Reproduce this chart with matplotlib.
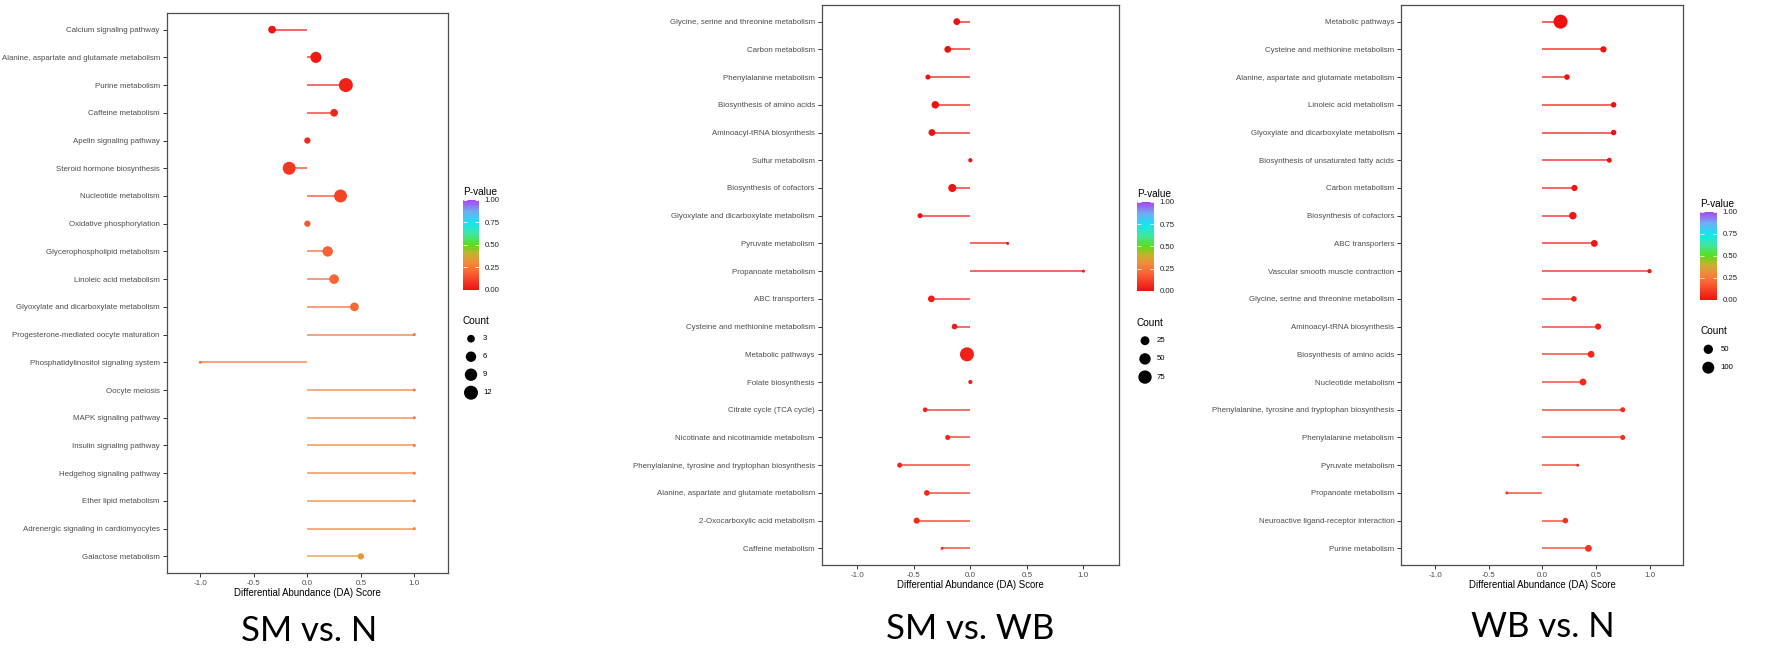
import numpy as np
import matplotlib.pyplot as plt
from matplotlib.colors import LinearSegmentedColormap, Normalize
from matplotlib.cm import ScalarMappable

W, H = 1772, 654

# ---- SM vs. N ----
terms1 = ["Calcium signaling pathway", "Alanine, aspartate and glutamate metabolism",
          "Purine metabolism", "Caffeine metabolism", "Apelin signaling pathway",
          "Steroid hormone biosynthesis", "Nucleotide metabolism", "Oxidative phosphorylation",
          "Glycerophospholipid metabolism", "Linoleic acid metabolism",
          "Glyoxylate and dicarboxylate metabolism", "Progesterone-mediated oocyte maturation",
          "Phosphatidylinositol signaling system", "Oocyte meiosis", "MAPK signaling pathway",
          "Insulin signaling pathway", "Hedgehog signaling pathway", "Ether lipid metabolism",
          "Adrenergic signaling in cardiomyocytes", "Galactose metabolism"]
da1 = [-0.33, 0.08, 0.36, 0.25, 0.0, -0.17, 0.31, 0.0, 0.19, 0.25, 0.44,
       1.0, -1.0, 1.0, 1.0, 1.0, 1.0, 1.0, 1.0, 0.5]
count1 = [3, 7, 12, 3, 2, 10, 10, 2, 6, 5, 4, 1, 1, 1, 1, 1, 1, 1, 1, 2]
p1 = [0.01, 0.02, 0.04, 0.05, 0.06, 0.09, 0.12, 0.17, 0.19, 0.2, 0.21,
      0.24, 0.24, 0.27, 0.27, 0.27, 0.27, 0.28, 0.28, 0.34]
breaks1 = [3, 6, 9, 12]

# ---- SM vs. WB ----
terms2 = ["Glycine, serine and threonine metabolism", "Carbon metabolism",
          "Phenylalanine metabolism", "Biosynthesis of amino acids", "Aminoacyl-tRNA biosynthesis",
          "Sulfur metabolism", "Biosynthesis of cofactors", "Glyoxylate and dicarboxylate metabolism",
          "Pyruvate metabolism", "Propanoate metabolism", "ABC transporters",
          "Cysteine and methionine metabolism", "Metabolic pathways", "Folate biosynthesis",
          "Citrate cycle (TCA cycle)", "Nicotinate and nicotinamide metabolism",
          "Phenylalanine, tyrosine and tryptophan biosynthesis",
          "Alanine, aspartate and glutamate metabolism", "2-Oxocarboxylic acid metabolism",
          "Caffeine metabolism"]
da2 = [-0.12, -0.2, -0.375, -0.31, -0.34, 0.0, -0.16, -0.445, 0.33, 1.0,
       -0.345, -0.14, -0.03, 0.0, -0.4, -0.2, -0.625, -0.385, -0.475, -0.25]
count2 = [11, 11, 4, 15, 11, 2, 19, 4, 1, 1, 11, 6, 85, 2, 3, 4, 4, 6, 8, 1]
p2 = [0.001, 0.002, 0.003, 0.004, 0.005, 0.006, 0.008, 0.01, 0.012, 0.015,
      0.03, 0.035, 0.04, 0.04, 0.045, 0.05, 0.055, 0.06, 0.065, 0.07]
breaks2 = [25, 50, 75]

# ---- WB vs. N ----
terms3 = ["Metabolic pathways", "Cysteine and methionine metabolism",
          "Alanine, aspartate and glutamate metabolism", "Linoleic acid metabolism",
          "Glyoxylate and dicarboxylate metabolism", "Biosynthesis of unsaturated fatty acids",
          "Carbon metabolism", "Biosynthesis of cofactors", "ABC transporters",
          "Vascular smooth muscle contraction", "Glycine, serine and threonine metabolism",
          "Aminoacyl-tRNA biosynthesis", "Biosynthesis of amino acids", "Nucleotide metabolism",
          "Phenylalanine, tyrosine and tryptophan biosynthesis", "Phenylalanine metabolism",
          "Pyruvate metabolism", "Propanoate metabolism",
          "Neuroactive ligand-receptor interaction", "Purine metabolism"]
da3 = [0.17, 0.57, 0.23, 0.665, 0.665, 0.625, 0.3, 0.285, 0.485, 1.0,
       0.295, 0.52, 0.455, 0.38, 0.75, 0.75, 0.33, -0.33, 0.215, 0.43]
count3 = [150, 14, 9, 9, 9, 6, 14, 26, 19, 3, 9, 14, 19, 19, 6, 6, 1, 1, 9, 19]
p3 = [0.0, 0.001, 0.003, 0.005, 0.006, 0.008, 0.01, 0.012, 0.015, 0.02,
      0.04, 0.05, 0.055, 0.06, 0.065, 0.07, 0.07, 0.075, 0.08, 0.08]
breaks3 = [50, 100]

xticks = [-1.0, -0.5, 0.0, 0.5, 1.0]
cbar_ticks = [0.0, 0.25, 0.5, 0.75, 1.0]

pcmap = LinearSegmentedColormap.from_list("pval", [
    (0.0, "#EE1111"), (0.2, "#FA6634"), (0.3, "#F08A3A"), (0.4, "#C8B030"),
    (0.5, "#5CDD1A"), (0.62, "#40E6A0"), (0.75, "#14E6F0"), (0.87, "#70AEF4"),
    (1.0, "#A845EE")])
norm = Normalize(0, 1)

plt.rcParams["font.family"] = ["Liberation Sans", "DejaVu Sans"]
fig = plt.figure(figsize=(W / 100, H / 100), dpi=100)

# overlay axis in pixel coordinates for legends and panel labels
ov = fig.add_axes([0, 0, 1, 1], zorder=5)
ov.set_xlim(0, W)
ov.set_ylim(H, 0)
ov.axis("off")


def dot_area(v, vmin, vmax):
    d = 3 + 11 * np.sqrt((np.asarray(v, float) - vmin) / (vmax - vmin))
    return (d * 0.72) ** 2


def panel(box, terms, da, count, pv, breaks, cbox, cnt_pos, label, label_pos):
    x0, y0, x1, y1 = box
    ax = fig.add_axes([x0 / W, 1 - y1 / H, (x1 - x0) / W, (y1 - y0) / H])
    n = len(terms)
    y = np.arange(n)
    cols = pcmap(norm(pv))
    vmin, vmax = min(count), max(count)
    ax.hlines(y, 0, da, colors=cols, lw=1.3, alpha=0.7, zorder=2)
    ax.scatter(da, y, s=dot_area(count, vmin, vmax), c=pv, cmap=pcmap, norm=norm,
               edgecolors="none", zorder=3)
    ax.set_xlim(-1.315, 1.315)
    ax.set_ylim(n - 0.4, -0.6)
    ax.set_yticks(y)
    ax.set_yticklabels(terms, fontsize=5.7, color="#4D4D4D")
    ax.set_xticks(xticks)
    ax.set_xticklabels([f"{t:.1f}" for t in xticks], fontsize=5.8, color="#4D4D4D")
    ax.tick_params(length=3, width=0.7, color="#333333", pad=2)
    for s in ax.spines.values():
        s.set_color("#4D4D4D")
        s.set_linewidth(0.9)
    ax.set_xlabel("Differential Abundance (DA) Score", fontsize=6.9, labelpad=1)

    # colour bar
    cx0, cy0, cx1, cy1 = cbox
    cax = fig.add_axes([cx0 / W, 1 - cy1 / H, (cx1 - cx0) / W, (cy1 - cy0) / H])
    cb = fig.colorbar(ScalarMappable(norm=norm, cmap=pcmap), cax=cax)
    cb.outline.set_visible(False)
    cb.set_ticks(cbar_ticks)
    cb.ax.set_yticklabels([f"{t:.2f}" for t in cbar_ticks], fontsize=5.6, color="#222222")
    cb.ax.tick_params(direction="in", color="white", length=3, width=0.6,
                      left=True, right=True, pad=4)
    ov.text(cx0, cy0 - 3, "P-value", fontsize=7.2, ha="left", va="bottom")

    # size legend
    lx, ly, step = cnt_pos
    ov.text(lx - 8, ly - 18, "Count", fontsize=7.2, ha="left", va="center")
    for i, b in enumerate(breaks):
        ov.scatter(lx, ly + i * step, s=dot_area(b, vmin, vmax), color="black",
                   edgecolors="none")
        ov.text(lx + 12, ly + i * step, str(b), fontsize=5.6, ha="left", va="center")

    ov.text(label_pos[0], label_pos[1], label, fontsize=25, family="Lato",
            ha="center", va="center")


panel((166.7, 13, 448, 573), terms1, da1, count1, p1, breaks1,
      (463, 200, 479, 290), (471, 338.7, 18), "SM vs. N", (309, 631))
panel((821.7, 5, 1119, 565), terms2, da2, count2, p2, breaks2,
      (1136.7, 202, 1154, 290.7), (1145, 340.7, 18.2), "SM vs. WB", (970, 629))
panel((1401.3, 5, 1683.3, 565), terms3, da3, count3, p3, breaks3,
      (1700, 211.7, 1716.7, 300), (1708.3, 349.3, 18.4), "WB vs. N", (1543, 627))

fig.savefig("out.png", dpi=100)
